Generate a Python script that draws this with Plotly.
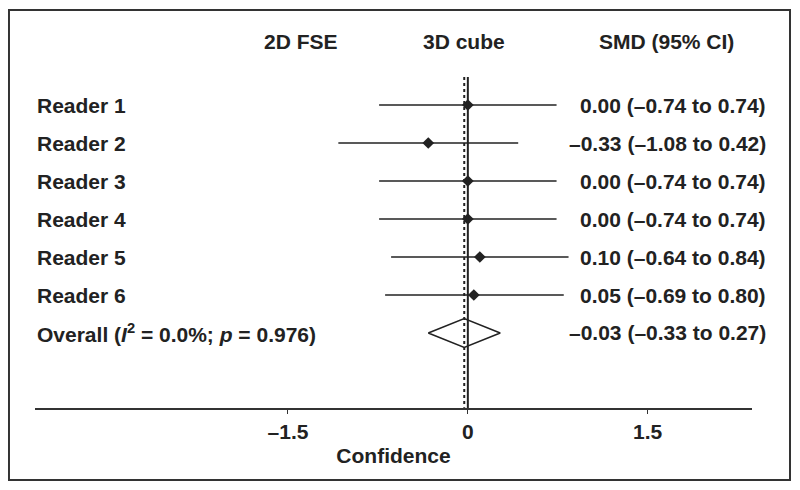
import plotly.graph_objects as go

readers = ["Reader 1", "Reader 2", "Reader 3", "Reader 4", "Reader 5", "Reader 6"]
smd = [0.00, -0.33, 0.00, 0.00, 0.10, 0.05]
ci_low = [-0.74, -1.08, -0.74, -0.74, -0.64, -0.69]
ci_high = [0.74, 0.42, 0.74, 0.74, 0.84, 0.80]
overall_label = "Overall (<i>I</i><sup>2</sup> = 0.0%; <i>p</i> = 0.976)"
overall_smd = -0.03
overall_low = -0.33
overall_high = 0.27
headers = ["2D FSE", "3D cube", "SMD (95% CI)"]
tick_vals = [-1.5, 0, 1.5]
tick_text = ["–1.5", "0", "1.5"]
x_title = "Confidence"

FONT = "Liberation Sans, Arial, sans-serif"
INK = "#222222"
FS = 21

def fmt(v):
    s = f"{abs(v):.2f}"
    return ("–" + s) if v < 0 else s

rows = list(range(1, len(readers) + 1))
overall_row = len(readers) + 1

fig = go.Figure()

# CI lines
xs, ys = [], []
for r, lo, hi in zip(rows, ci_low, ci_high):
    xs += [lo, hi, None]
    ys += [r, r, None]
fig.add_trace(go.Scatter(x=xs, y=ys, mode="lines",
                         line=dict(color=INK, width=1.6), hoverinfo="skip"))

# Point estimates
fig.add_trace(go.Scatter(x=smd, y=rows, mode="markers",
                         marker=dict(symbol="diamond", size=9, color=INK),
                         hoverinfo="skip"))

# Overall diamond
h = 0.38
fig.add_trace(go.Scatter(
    x=[overall_low, overall_smd, overall_high, overall_smd, overall_low],
    y=[overall_row, overall_row - h, overall_row, overall_row + h, overall_row],
    mode="lines", line=dict(color=INK, width=1.6), hoverinfo="skip"))

shapes = [
    dict(type="line", xref="x", yref="y", x0=0, x1=0, y0=0.26, y1=9.08,
         line=dict(color=INK, width=2)),
    dict(type="line", xref="x", yref="y", x0=overall_smd, x1=overall_smd,
         y0=0.26, y1=8.97, line=dict(color=INK, width=2, dash="dot")),
    dict(type="rect", xref="paper", yref="paper",
         x0=-0.0363, x1=1.053, y0=-0.18, y1=0.995,
         line=dict(color="#333333", width=2)),
]

annotations = []
tf = dict(family=FONT, size=FS, color=INK, weight="bold")
for r, lab in zip(rows, readers):
    annotations.append(dict(x=0, xref="paper", y=r, yref="y", text=lab,
                            showarrow=False, xanchor="left", yanchor="middle", font=tf))
annotations.append(dict(x=0, xref="paper", y=overall_row, yref="y", text=overall_label,
                        showarrow=False, xanchor="left", yanchor="middle", font=tf))
right_x = (768 - 35) / 717
for r, v, lo, hi in zip(rows, smd, ci_low, ci_high):
    annotations.append(dict(x=right_x, xref="paper", y=r, yref="y",
                            text=f"{fmt(v)} ({fmt(lo)} to {fmt(hi)})",
                            showarrow=False, xanchor="right", yanchor="middle", font=tf))
annotations.append(dict(x=right_x, xref="paper", y=overall_row, yref="y",
                        text=f"{fmt(overall_smd)} ({fmt(overall_low)} to {fmt(overall_high)})",
                        showarrow=False, xanchor="right", yanchor="middle", font=tf))
header_x = [-1.39, -0.03, (667 - 468) / 120]
for hx, ht in zip(header_x, headers):
    annotations.append(dict(x=hx, xref="x", y=-0.66, yref="y", text=ht,
                            showarrow=False, xanchor="center", yanchor="middle", font=tf))

fig.update_layout(
    width=792, height=482,
    margin=dict(l=27, r=48, t=0, b=82),
    paper_bgcolor="white", plot_bgcolor="white",
    showlegend=False,
    shapes=shapes, annotations=annotations,
    xaxis=dict(range=[-3.61, 2.37], tickvals=tick_vals, ticktext=tick_text,
               showgrid=False, zeroline=False, showline=True, linecolor="#333333",
               linewidth=2, ticks="outside", ticklen=4, tickwidth=1, tickcolor="#333333",
               tickfont=dict(family=FONT, size=FS, color=INK, weight="bold"),
               title=dict(text=x_title, font=dict(family=FONT, size=FS, color=INK, weight="bold"),
                          standoff=6)),
    yaxis=dict(range=[8.974, -1.553], visible=False, showgrid=False, zeroline=False),
)

fig.write_html("out.html")
